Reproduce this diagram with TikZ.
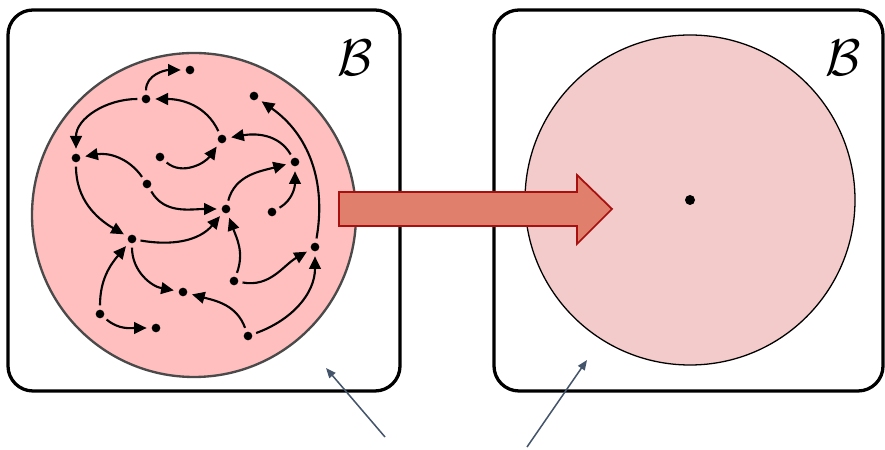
\documentclass[tikz,border=0pt]{standalone}
\usepackage{fix-cm}
\usepackage{tikz}
\usetikzlibrary{arrows.meta, positioning}
\definecolor{blobpink}{HTML}{FFBFBF}
\definecolor{blobedge}{HTML}{4A4A4A}
\definecolor{softpink}{HTML}{F3CBCB}
\definecolor{salmon}{HTML}{E07F6C}
\definecolor{darkred}{HTML}{A81010}
\definecolor{slate}{HTML}{44546A}
\tikzset{
	dotnode/.style={circle, fill=black, inner sep=0pt, minimum size=2.6mm, outer sep=1.3mm}
}
\tikzset{
	flowarrow/.style={line width=1.8pt, -{Triangle[length=3.8mm,width=3.5mm]}, shorten >=0.2mm}
}
\tikzset{
	framebox/.style={line width=2.8pt, rounded corners=7.5mm}
}
\tikzset{
	pointer/.style={line width=1.3pt, color=slate, -{Triangle[length=3mm,width=2.4mm]}}
}
\tikzset{
	setlabel/.style={font=\fontsize{44}{48}\selectfont}
}

\begin{document}
\begin{tikzpicture}[x=0.3mm, y=0.3mm]
  \useasboundingbox (0,0) rectangle (885,450);
  % two frames and the two discs
  \draw[framebox] (8,59) rectangle (400,440);
  \draw[framebox] (494,59) rectangle (883,440);
  \draw[fill=blobpink, draw=blobedge, line width=2pt] (194,235) circle[radius=48.6mm];
  \draw[fill=softpink, draw=black, line width=1.1pt] (690,250) circle[radius=49.5mm];
  \node[setlabel] (bleft) at (355,392) {$\mathcal{B}$};
  \node[setlabel] (bright) at (843,392) {$\mathcal{B}$};
  % points in the left disc
  \foreach \n/\x/\y in {1/190/380, 2/146/351, 3/254/354, 4/222/311, 5/76/292, 6/160/293,
      7/147/266, 8/295/288, 9/226/241, 10/272/238, 11/132/211, 12/315/203,
      13/234/169, 14/183/158, 15/100/136, 16/156/122, 17/248/114}
    \node[dotnode] (p\n) at (\x,\y) {};
  % flows between them
  \foreach \a/\b/\o/\i in {2/1/90/180, 4/2/115/0, 2/5/180/90, 7/5/125/10, 6/4/-40/-125,
      12/3/80/-35, 8/4/120/10, 9/8/75/195, 10/8/30/-90, 5/11/-90/150, 7/9/-60/180,
      11/9/-10/-130, 15/11/90/-130, 11/14/-90/170, 15/16/-40/180, 13/9/70/-70,
      13/12/-10/-150, 17/14/110/-15, 17/12/20/-90}
    \draw[flowarrow] (p\a) to[out=\o, in=\i] (p\b);
  % the single point on the right
  \node[circle, fill=black, inner sep=0pt, minimum size=3mm] (c0) at (690,250) {};
  % big arrow
  \draw[fill=salmon, draw=darkred, line width=1.5pt] (339,258) -- (577,258) -- (577,275)
    -- (612,241) -- (577,206) -- (577,224) -- (339,224) -- cycle;
  % pointers from below
  \coordinate (s1) at (385,13);
  \coordinate (t1) at (326,82);
  \coordinate (s2) at (527,3);
  \coordinate (t2) at (587,90);
  \draw[pointer] (s1) -- (t1);
  \draw[pointer] (s2) -- (t2);
\end{tikzpicture}
\end{document}
